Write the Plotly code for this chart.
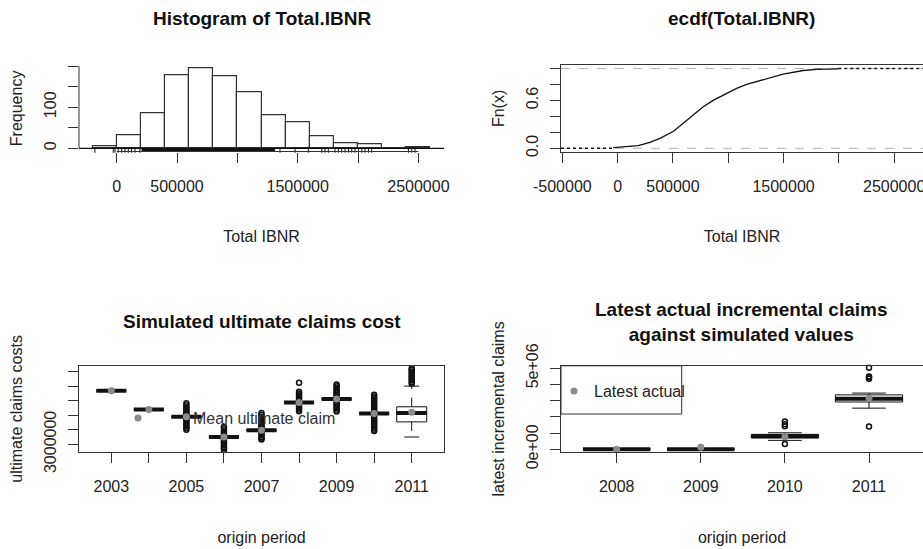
import plotly.graph_objects as go

W, H = 923, 549
FONT = "Liberation Sans, Arial, sans-serif"
INK = "#222222"
AXC = "#333333"
GRAY = "#8a8a8a"

# ---------------- Panel 1: histogram of Total.IBNR ----------------
hist_breaks = [-200000, 0, 200000, 400000, 600000, 800000, 1000000, 1200000,
               1400000, 1600000, 1800000, 2000000, 2200000, 2400000, 2600000]
hist_counts = [4, 32, 86, 177, 194, 175, 137, 81, 63, 28, 12, 9, 0, 2]
hist_xticks = [0, 500000, 1000000, 1500000, 2000000, 2500000]
hist_xtext = ["0", "500000", "", "1500000", "", "2500000"]
hist_yticks = [0, 50, 100, 150, 200]
hist_ytext = ["0", "", "100", "", ""]
# density line (values ~1e-6, i.e. flat at zero on the frequency scale)
density_x = [-650000, 3050000]
density_y = [0, 0]
# rug of the simulated totals (sparse marks + the dense central block)
rug_sparse = [-180000, -28000, -14000, 13000, 41000, 69000, 96000, 124000, 152000, 193000,
              1353000, 1478000, 1588000, 1699000, 1726000, 1754000, 1809000, 1837000,
              1865000, 1892000, 1920000, 1948000, 1975000, 2003000, 2031000, 2058000,
              2086000, 2113000, 2417000, 2445000, 2472000]
rug_dense = [207000, 1312000]

# ---------------- Panel 2: ecdf(Total.IBNR) ----------------
ecdf_x = [-40000, 186000, 292000, 382000, 503000, 593000, 684000, 774000, 864000,
          970000, 1076000, 1166000, 1317000, 1497000, 1678000, 1799000, 1995000]
ecdf_y = [0.008, 0.033, 0.075, 0.125, 0.21, 0.31, 0.42, 0.52, 0.60,
          0.675, 0.75, 0.80, 0.86, 0.93, 0.975, 0.99, 0.995]
ecdf_xlim = [-512000, 2761000]
ecdf_xticks = [-500000, 0, 500000, 1000000, 1500000, 2000000, 2500000]
ecdf_xtext = ["-500000", "0", "500000", "", "1500000", "", "2500000"]
ecdf_yticks = [0.0, 0.2, 0.4, 0.6, 0.8, 1.0]
ecdf_ytext = ["0.0", "", "", "0.6", "", ""]

# ---------------- Panel 3: simulated ultimate claims cost ----------------
ult_years = [2003, 2004, 2005, 2006, 2007, 2008, 2009, 2010, 2011]
ult_q1 = [4844000, 4200000, 3945000, 3250000, 3480000, 4440000, 4560000, 4060000, 3770000]
ult_med = [4844000, 4200000, 3945000, 3250000, 3480000, 4440000, 4560000, 4060000, 4080000]
ult_q3 = [4844000, 4200000, 3945000, 3250000, 3480000, 4440000, 4560000, 4060000, 4290000]
ult_lo = [4844000, 4200000, 3945000, 3250000, 3480000, 4440000, 4560000, 4060000, 3250000]
ult_hi = [4844000, 4200000, 3945000, 3250000, 3480000, 4440000, 4560000, 4060000, 5000000]
ult_mean = [4844000, 4200000, 3945000, 3250000, 3480000, 4440000, 4560000, 4060000, 4100000]
ult_out = [
    [],
    [],
    [4410000, 4340000, 4270000, 4210000, 4150000, 4090000, 4030000, 3990000, 3900000,
     3860000, 3800000, 3740000, 3680000, 3620000, 3560000, 3500000],
    [3600000, 3540000, 3470000, 3410000, 3350000, 3300000, 3200000, 3150000, 3090000,
     3030000, 2970000, 2910000, 2860000, 2800000],
    [4080000, 4010000, 3940000, 3870000, 3800000, 3740000, 3680000, 3620000, 3550000,
     3420000, 3370000, 3310000, 3250000, 3200000, 3160000],
    [5120000, 4810000, 4750000, 4690000, 4630000, 4570000, 4510000, 4380000, 4320000,
     4260000, 4200000, 4140000],
    [5060000, 5000000, 4940000, 4880000, 4820000, 4760000, 4700000, 4640000, 4490000,
     4430000, 4370000, 4310000, 4250000, 4190000, 4130000],
    [4700000, 4640000, 4580000, 4520000, 4460000, 4400000, 4340000, 4280000, 4220000,
     4150000, 3980000, 3920000, 3860000, 3800000, 3740000, 3680000, 3620000, 3560000,
     3500000, 3460000],
    [5620000, 5560000, 5500000, 5440000, 5380000, 5320000, 5260000, 5200000, 5140000, 5080000],
]
ult_yticks = [3000000, 3500000, 4000000, 4500000, 5000000, 5500000]
ult_ytext = ["3000000", "", "", "", "", ""]
ult_xtext = ["2003", "", "2005", "", "2007", "", "2009", "", "2011"]

# ---------------- Panel 4: latest actual incremental vs simulated ----------------
lat_years = [2008, 2009, 2010, 2011]
lat_q1 = [0, 0, 700000, 2920000]
lat_med = [10000, 10000, 800000, 3120000]
lat_q3 = [20000, 20000, 920000, 3360000]
lat_lo = [0, 0, 550000, 2540000]
lat_hi = [20000, 20000, 1020000, 3470000]
lat_actual = [0, 120000, 780000, 3150000]
lat_out = [[], [], [1420000, 1550000, 1720000, 330000], [4360000, 4450000, 4490000, 5030000, 1400000]]
lat_yticks = [0, 1000000, 2000000, 3000000, 4000000, 5000000]
lat_ytext = ["0e+00", "", "", "", "", "5e+06"]

BOXW = 0.8

fig = go.Figure()

# ---- panel 1 traces
centers = [(hist_breaks[i] + hist_breaks[i + 1]) / 2 for i in range(len(hist_counts))]
fig.add_trace(go.Bar(x=centers, y=hist_counts, width=hist_breaks[1] - hist_breaks[0],
                     marker=dict(color="white", line=dict(color=AXC, width=1.2)),
                     xaxis="x", yaxis="y", showlegend=False, name="Frequency"))
fig.add_trace(go.Scatter(x=density_x, y=density_y, mode="lines", line=dict(color="#111", width=1.2),
                         xaxis="x", yaxis="y", showlegend=False, name="density"))
fig.add_trace(go.Scatter(x=rug_dense, y=[-4.0] * len(rug_dense), mode="lines",
                         line=dict(color="#111", width=3), xaxis="x", yaxis="y",
                         showlegend=False, name="rug"))
fig.add_trace(go.Scatter(x=rug_sparse, y=[-4.0] * len(rug_sparse), mode="markers",
                         marker=dict(symbol="line-ns-open", size=4, color="#111",
                                     line=dict(color="#111", width=1)),
                         xaxis="x", yaxis="y", showlegend=False, name="rug", cliponaxis=False))

# ---- panel 2 traces
fig.add_trace(go.Scatter(x=ecdf_x, y=ecdf_y, mode="lines", line=dict(color="#111", width=1.3),
                         xaxis="x2", yaxis="y2", showlegend=False, name="Fn(x)"))
fig.add_trace(go.Scatter(x=[ecdf_xlim[0], ecdf_x[0]], y=[0, 0], mode="lines",
                         line=dict(color="#111", width=1.5, dash="dot"),
                         xaxis="x2", yaxis="y2", showlegend=False, name="Fn(x)"))
fig.add_trace(go.Scatter(x=[ecdf_x[-1], ecdf_xlim[1]], y=[1, 1], mode="lines",
                         line=dict(color="#111", width=1.5, dash="dot"),
                         xaxis="x2", yaxis="y2", showlegend=False, name="Fn(x)"))


def add_boxes(years, q1, med, q3, lo, hi, outs, xa, ya):
    fig.add_trace(go.Box(x=years, q1=q1, median=med, q3=q3, lowerfence=q1, upperfence=q3,
                         width=BOXW, whiskerwidth=0, fillcolor="white", boxpoints=False,
                         line=dict(color="#111", width=1), xaxis=xa, yaxis=ya,
                         showlegend=False, name="simulated"))
    wx, wy, cx, cy, mx, my = [], [], [], [], [], []
    for yr, a, m, b, l, h in zip(years, q1, med, q3, lo, hi):
        if h > b:
            wx += [yr, yr, None]; wy += [b, h, None]
            cx += [yr - BOXW / 4, yr + BOXW / 4, None]; cy += [h, h, None]
        if l < a:
            wx += [yr, yr, None]; wy += [a, l, None]
            cx += [yr - BOXW / 4, yr + BOXW / 4, None]; cy += [l, l, None]
        mx += [yr - BOXW / 2, yr + BOXW / 2, None]; my += [m, m, None]
    fig.add_trace(go.Scatter(x=wx, y=wy, mode="lines", line=dict(color="#111", width=1, dash="dash"),
                             xaxis=xa, yaxis=ya, showlegend=False, name="whisker"))
    fig.add_trace(go.Scatter(x=cx, y=cy, mode="lines", line=dict(color="#111", width=1),
                             xaxis=xa, yaxis=ya, showlegend=False, name="whisker"))
    ox, oy = [], []
    for yr, o in zip(years, outs):
        ox += [yr] * len(o); oy += o
    fig.add_trace(go.Scatter(x=ox, y=oy, mode="markers",
                             marker=dict(symbol="circle-open", size=5, color="#111", line=dict(width=1.5)),
                             xaxis=xa, yaxis=ya, showlegend=False, name="outliers", cliponaxis=False))
    fig.add_trace(go.Scatter(x=mx, y=my, mode="lines", line=dict(color="#111", width=4),
                             xaxis=xa, yaxis=ya, showlegend=False, name="median"))


# ---- panel 3 traces
add_boxes(ult_years, ult_q1, ult_med, ult_q3, ult_lo, ult_hi, ult_out, "x3", "y3")
fig.add_trace(go.Scatter(x=ult_years, y=ult_mean, mode="markers",
                         marker=dict(color=GRAY, size=7), xaxis="x3", yaxis="y3",
                         name="Mean ultimate claim", legend="legend2", showlegend=True))

# ---- panel 4 traces
add_boxes(lat_years, lat_q1, lat_med, lat_q3, lat_lo, lat_hi, lat_out, "x4", "y4")
fig.add_trace(go.Scatter(x=lat_years, y=lat_actual, mode="markers",
                         marker=dict(color=GRAY, size=7), xaxis="x4", yaxis="y4",
                         name="Latest actual", legend="legend", showlegend=True))


def px_x(p):
    return p / W


def px_y(p):
    return 1 - p / H


TS = 16
tickfont = dict(family=FONT, size=TS, color=INK)
titlefont = dict(family=FONT, size=TS, color=INK)
base = dict(showgrid=False, zeroline=False, ticks="outside", ticklen=10, tickwidth=1,
            tickcolor=AXC, tickfont=tickfont, linecolor=AXC, linewidth=1, fixedrange=True,
            automargin=False, ticklabeloverflow="allow")

top_dom = [px_y(151.5), px_y(65.3)]
bot_dom = [px_y(452), px_y(365.8)]
left_dom = [px_x(79), px_x(444)]
right_dom = [px_x(561), 1.0]
XSTAND = 37
YSTAND = 14

fig.update_layout(
    width=W, height=H, margin=dict(l=0, r=0, t=0, b=0, autoexpand=False),
    paper_bgcolor="white", plot_bgcolor="white",
    font=dict(family=FONT, color=INK),
    xaxis=dict(base, domain=left_dom, anchor="y", range=[-312000, 2712000], showline=False,
               tickmode="array", tickvals=hist_xticks, ticktext=hist_xtext, ticklabelstandoff=10,
               title=dict(text="Total IBNR", font=titlefont, standoff=XSTAND)),
    yaxis=dict(base, domain=top_dom, anchor="x", range=[-7.76, 201.76], showline=False,
               tickmode="array", tickvals=hist_yticks, ticktext=hist_ytext, tickangle=-90,
               ticklabelstandoff=6,
               title=dict(text="Frequency", font=titlefont, standoff=YSTAND)),
    xaxis2=dict(base, domain=right_dom, anchor="y2", range=ecdf_xlim, showline=True, mirror=True,
                tickmode="array", tickvals=ecdf_xticks, ticktext=ecdf_xtext, ticklabelstandoff=10,
                title=dict(text="Total IBNR", font=titlefont, standoff=XSTAND)),
    yaxis2=dict(base, domain=top_dom, anchor="x2", range=[-0.04, 1.04], showline=True,
                tickmode="array", tickvals=ecdf_yticks, ticktext=ecdf_ytext, tickangle=-90,
                ticklabelstandoff=6,
                title=dict(text="Fn(x)", font=titlefont, standoff=YSTAND)),
    xaxis3=dict(base, domain=left_dom, anchor="y3", range=[2002.14, 2011.86], showline=True, mirror=True,
                tickmode="array", tickvals=ult_years, ticktext=ult_xtext, ticklabelstandoff=10,
                title=dict(text="origin period", font=titlefont, standoff=XSTAND)),
    yaxis3=dict(base, domain=bot_dom, anchor="x3", range=[2734000, 5700000], showline=True, mirror=True,
                tickmode="array", tickvals=ult_yticks, ticktext=ult_ytext, tickangle=-90,
                ticklabelstandoff=6,
                title=dict(text="ultimate claims costs", font=titlefont, standoff=YSTAND)),
    xaxis4=dict(base, domain=right_dom, anchor="y4", range=[2007.338, 2011.642], showline=True, mirror=True,
                tickmode="array", tickvals=lat_years, ticktext=[str(y) for y in lat_years],
                ticklabelstandoff=10,
                title=dict(text="origin period", font=titlefont, standoff=XSTAND)),
    yaxis4=dict(base, domain=bot_dom, anchor="x4", range=[-167000, 5154000], showline=True,
                tickmode="array", tickvals=lat_yticks, ticktext=lat_ytext, tickangle=-90,
                ticklabelstandoff=6,
                title=dict(text="latest incremental claims", font=titlefont, standoff=YSTAND)),
    legend=dict(x=px_x(554), y=px_y(391), xanchor="left", yanchor="middle",
                bgcolor="rgba(0,0,0,0)", borderwidth=0, itemwidth=30,
                font=dict(family=FONT, size=TS, color=INK)),
    legend2=dict(x=px_x(83), y=px_y(418), xanchor="left", yanchor="middle",
                 bgcolor="rgba(0,0,0,0)", borderwidth=0, itemwidth=100,
                 font=dict(family=FONT, size=TS, color="#333")),
    bargap=0,
    showlegend=True,
)

# R-style axis lines for the histogram (only between first and last tick)
fig.add_shape(type="line", xref="x", yref="y domain", x0=hist_xticks[0], x1=hist_xticks[-1],
              y0=0, y1=0, line=dict(color=AXC, width=1))
fig.add_shape(type="line", xref="x domain", yref="y", x0=0, x1=0, y0=hist_yticks[0], y1=hist_yticks[-1],
              line=dict(color=AXC, width=1))
# ecdf 0/1 reference lines
for lev in (0, 1):
    fig.add_shape(type="line", xref="x2 domain", yref="y2", x0=0, x1=1, y0=lev, y1=lev,
                  line=dict(color="#b3b3b3", width=1, dash="dash"), layer="below")
# legend box for panel 4
fig.add_shape(type="rect", xref="paper", yref="paper", x0=px_x(561), x1=px_x(681.7),
              y0=px_y(414), y1=px_y(365.8), line=dict(color=AXC, width=1), fillcolor="white",
              layer="below")

titles = [
    ("Histogram of Total.IBNR", 261.5, 18),
    ("ecdf(Total.IBNR)", 741.7, 18),
    ("Simulated ultimate claims cost", 261.5, 321.7),
    ("Latest actual incremental claims<br>against simulated values", 741.0, 321.7),
]
for txt, xx, yy in titles:
    fig.add_annotation(text=txt, x=px_x(xx), y=px_y(yy), xref="paper", yref="paper",
                       xanchor="center", yanchor="middle", showarrow=False,
                       font=dict(family=FONT, size=19, color="#111", weight="bold"))

fig.write_html("out.html", config={"displayModeBar": False},
               post_script="document.body.style.margin='0';document.body.style.overflow='hidden';")
